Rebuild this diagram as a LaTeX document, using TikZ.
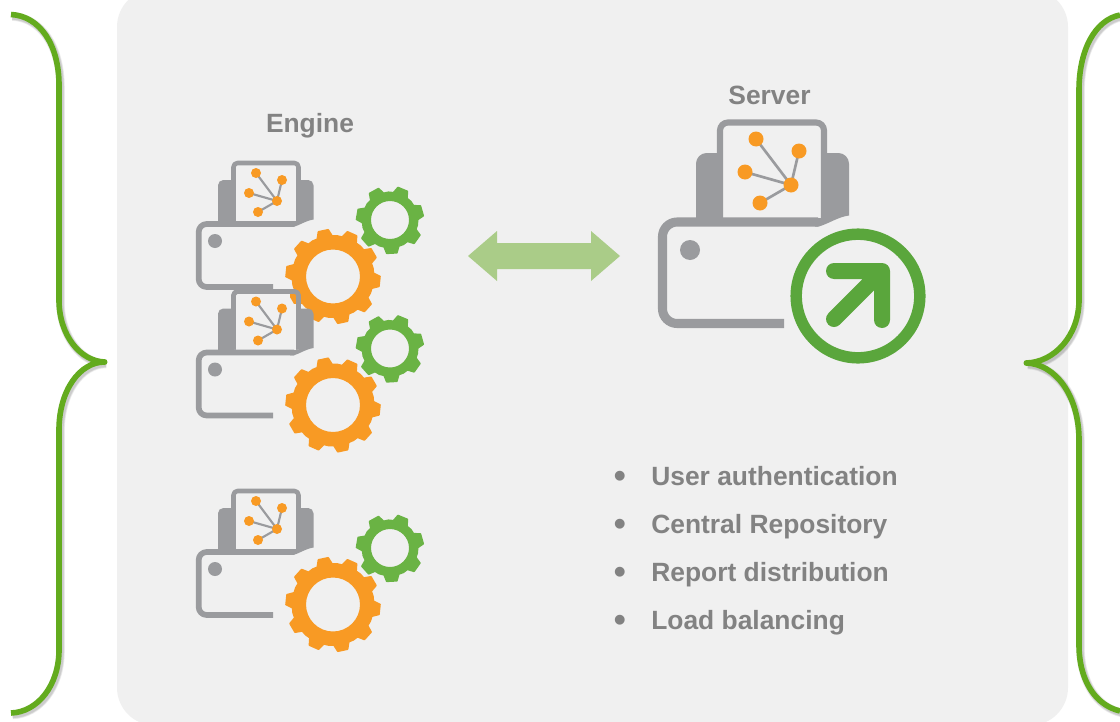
\documentclass[tikz,border=0pt]{standalone}
\usepackage{fontspec}
\setmainfont{Liberation Sans}
\definecolor{panelbg}{HTML}{F0F0F0}
\definecolor{bracegreen}{HTML}{63AB1E}
\definecolor{geargreen}{HTML}{6AB344}
\definecolor{servergreen}{HTML}{5AA63C}
\definecolor{gearorange}{HTML}{F89A24}
\definecolor{printergray}{HTML}{9A9B9E}
\definecolor{textgray}{HTML}{828282}
\definecolor{arrowgreen}{HTML}{AACC88}
\tikzset{
  labeltext/.style={font=\fontsize{19.8}{22}\selectfont\bfseries,text=textgray,inner sep=0pt},
  bullettext/.style={font=\fontsize{25.7}{28}\selectfont\bfseries,text=textgray,inner sep=0pt},
  bracestroke/.style={draw=bracegreen,line width=4.2pt,line cap=butt},
  braceshade/.style={draw=black,opacity=.07,line cap=butt},
  gearfill/.style={fill=#1,draw=#1,line width=1.2pt,line join=round,even odd rule},
  graystroke/.style={draw=printergray,line join=round},
  netline/.style={draw=printergray},
  netdot/.style={fill=gearorange}
}
% cx cy teeth root tip hole offset colour
\newcommand\gearicon[8]{%
  \begin{scope}[shift={(#1,#2)}]
    \pgfmathsetmacro\gp{360/#3}
    \path[gearfill=#8] ({#7-.30*\gp}:#4)
      \foreach \k in {1,...,#3}{
        \pgfextra{\pgfmathsetmacro\ga{#7+(\k-1)*\gp}}
        -- ({\ga-.17*\gp}:#5) -- ({\ga+.17*\gp}:#5) -- ({\ga+.30*\gp}:#4) -- ({\ga+.5*\gp}:#4+.3) -- ({\ga+.70*\gp}:#4)
      } -- cycle (0,0) circle[radius=#6];
  \end{scope}}
% small printer, y offset
\newcommand\smallprinter[1]{%
  \begin{scope}[shift={(0,#1)}]
    \fill[printergray] (236,224) -- (236,180) [rounded corners=4pt] -- (218,180) [sharp corners] -- (218,224) -- cycle;
    \fill[printergray] (296,180) [rounded corners=4pt] -- (313.5,180) [sharp corners] -- (313.5,219.5) .. controls (305,221) and (300,225) .. (294,226.8) -- (290,226.8) -- (290,221) -- cycle;
    \fill[panelbg] (233.5,163) rectangle (298.5,221);
    \draw[graystroke,line width=3.4pt,rounded corners=3pt] (233.5,221) -- (233.5,163) -- (298.5,163) -- (298.5,221);
    \draw[graystroke,line width=4.3pt,rounded corners=6pt] (273,287) -- (198.7,287) -- (198.7,224) -- (294,224);
    \fill[printergray] (215,241) circle[radius=7];
    \draw[netline,line width=1.6pt] (256,173) -- (277,201) (282,180) -- (277,201) (249,193) -- (277,201) (258,212) -- (277,201);
    \fill[netdot] (256,173) circle[radius=5] (282,180) circle[radius=5] (249,193) circle[radius=5] (258,212) circle[radius=5] (277,201) circle[radius=5];
  \end{scope}}
\begin{document}
\begin{tikzpicture}[x=.75pt,y=-.75pt]
\useasboundingbox (0,0) rectangle (1120,721);
\fill[white] (0,0) rectangle (1120,721);
\fill[panelbg,rounded corners=28.5pt] (117,-11) rectangle (1068,725.5);

% brace shadows
\foreach \wd in {6.4pt,5.4pt,4.6pt}{
  \draw[braceshade,line width=\wd,shift={(1.5,2)}] (11,14.5) .. controls (40,16) and (59,45) .. (59,85) -- (59,300) .. controls (59,335) and (80,361) .. (104.5,362) .. controls (80,362) and (59,390) .. (59,430) -- (59,650) .. controls (59,685) and (38,712) .. (11,713);
  \draw[braceshade,line width=\wd,shift={(1.5,2)}] (1120,15) .. controls (1095,20) and (1079,50) .. (1079,90) -- (1079,300) .. controls (1079,335) and (1055,362) .. (1026.5,363) .. controls (1055,364) and (1079,395) .. (1079,440) -- (1079,645) .. controls (1079,680) and (1095,705) .. (1120,711);
}
% left brace
\draw[bracestroke] (11,14.5) .. controls (40,16) and (59,45) .. (59,85) -- (59,300) .. controls (59,335) and (80,361) .. (104.5,362) .. controls (80,362) and (59,390) .. (59,430) -- (59,650) .. controls (59,685) and (38,712) .. (11,713);
\fill[bracegreen] (104.5,362) circle[radius=3];
% right brace
\draw[bracestroke] (1120,15) .. controls (1095,20) and (1079,50) .. (1079,90) -- (1079,300) .. controls (1079,335) and (1055,362) .. (1026.5,363) .. controls (1055,364) and (1079,395) .. (1079,440) -- (1079,645) .. controls (1079,680) and (1095,705) .. (1120,711);
\fill[bracegreen] (1026.5,363) circle[radius=3];

% labels
\node[labeltext,anchor=base] (enginelabel) at (310,132) {Engine};
\node[labeltext,anchor=base] (serverlabel) at (769.5,104) {Server};

% engine icons
\smallprinter{0}
\gearicon{390}{220}{7}{27.5}{33.5}{19.8}{-16}{geargreen}
\gearicon{333}{276.5}{10}{40.5}{47}{27.8}{6}{gearorange}

\smallprinter{128.5}
\begin{scope}
  \clip (290,293) rectangle (296.5,303);
  \gearicon{333}{276.5}{10}{40.5}{47}{27.8}{6}{gearorange}
\end{scope}
\draw[graystroke,line width=3.4pt,rounded corners=3pt] (233.5,349.5) -- (233.5,291.5) -- (298.5,291.5) -- (298.5,349.5);
\gearicon{390}{348.5}{7}{27.5}{33.5}{19.8}{-16}{geargreen}
\gearicon{333}{405}{10}{40.5}{47}{27.8}{6}{gearorange}

\smallprinter{328}
\gearicon{390}{548}{7}{27.5}{33.5}{19.8}{-16}{geargreen}
\gearicon{333}{604.5}{10}{40.5}{47}{27.8}{6}{gearorange}

% double arrow
\fill[arrowgreen] (468,256) -- (497,231) -- (497,243) -- (591,243) -- (591,231) -- (620,256) -- (591,281) -- (591,269) -- (497,269) -- (497,281) -- cycle;

% server
\fill[printergray] (722,225) -- (722,153) [rounded corners=8pt] -- (696,153) [sharp corners] -- (696,225) -- cycle;
\fill[printergray] (822,153) [rounded corners=8pt] -- (849,153) [sharp corners] -- (849,215.5) .. controls (838,217) and (830,223) .. (819,226.5) -- (815,226.5) -- (815,217.5) -- cycle;
\fill[panelbg] (720,122.5) rectangle (824,218);
\draw[graystroke,line width=4.6pt,rounded corners=6pt] (720,218) -- (720,122.5) -- (824,122.5) -- (824,218);
\draw[graystroke,line width=6.8pt,rounded corners=11pt] (784,323.5) -- (662.5,323.5) -- (662.5,222) -- (818,222);
\fill[printergray] (690,250) circle[radius=10];
\draw[netline,line width=2pt] (756,139) -- (791,185) (799,151) -- (791,185) (745,172) -- (791,185) (760,203) -- (791,185);
\fill[netdot] (756,139) circle[radius=7.5] (799,151) circle[radius=7.5] (745,172) circle[radius=7.5] (760,203) circle[radius=7.5] (791,185) circle[radius=7.5];
\begin{scope}
  \clip (780,220) rectangle (926,370);
  \draw[servergreen,line width=8.6pt] (858,296) circle[radius=61.8];
\end{scope}
\draw[servergreen,line width=12pt,line cap=round,line join=round] (834,271) -- (882,271) -- (882,320) (834,319) -- (880,273);

% list
\node[bullettext,anchor=base west] (bullet1) at (613.5,487.7) {•};
\node[labeltext,anchor=base west] (item1) at (651,485) {User authentication};
\node[bullettext,anchor=base west] (bullet2) at (613.5,535.7) {•};
\node[labeltext,anchor=base west] (item2) at (651,533) {Central Repository};
\node[bullettext,anchor=base west] (bullet3) at (613.5,583.7) {•};
\node[labeltext,anchor=base west] (item3) at (651,581) {Report distribution};
\node[bullettext,anchor=base west] (bullet4) at (613.5,631.7) {•};
\node[labeltext,anchor=base west] (item4) at (651,629) {Load balancing};
\end{tikzpicture}
\end{document}
